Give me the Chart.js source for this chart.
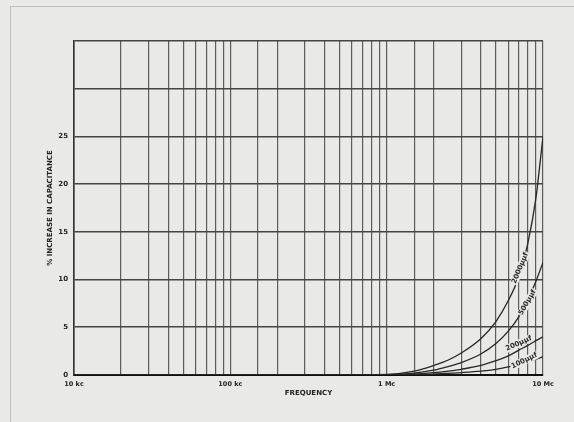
<!DOCTYPE html>
<html>
<head>
<meta charset="utf-8">
<script src="https://cdn.jsdelivr.net/npm/chart.js@4/dist/chart.umd.min.js"></script>
<style>
  html, body { margin: 0; padding: 0; background: #e9e9e7; }
  #wrap { width: 574px; height: 422px; }
</style>
</head>
<body>
<div id="wrap"><canvas id="chart" width="574" height="422"></canvas></div>
<script>
// frequency (c/s) and % increase in capacitance per capacitor size
const freqs   = [1e4, 1e5, 5e5, 1e6, 1.5e6, 2e6, 2.5e6, 3e6, 4e6, 5e6, 6e6, 7e6, 8e6, 9e6, 1e7];
const pf2000  = [0, 0, 0, 0.05, 0.4, 1.0, 1.6, 2.3, 3.8, 5.6, 7.8, 10.3, 13.8, 18.5, 25];
const pf500   = [0, 0, 0, 0.02, 0.2, 0.5, 0.9, 1.3, 2.2, 3.3, 4.6, 6.1, 7.9, 9.8, 11.8];
const pf200   = [0, 0, 0, 0.01, 0.1, 0.25, 0.4, 0.6, 1.0, 1.5, 2.0, 2.6, 3.1, 3.6, 4.0];
const pf100   = [0, 0, 0, 0, 0.05, 0.1, 0.18, 0.25, 0.4, 0.6, 0.85, 1.1, 1.4, 1.65, 1.9];

const seriesNames = ["2000μμf", "500μμf", "200μμf", "100μμf"];
const yLabelled   = [0, 5, 10, 15, 20, 25];
const xDecades    = [1e4, 1e5, 1e6, 1e7];
const xDecadeText = ["10 kc", "100 kc", "1 Mc", "10 Mc"];

// where the hand lettering sits along each curve (freq, value, angle)
const notes = [
  { f: 7.15e6, v: 11.2, a: -67 },
  { f: 7.95e6, v: 7.6,  a: -60 },
  { f: 7.0e6,  v: 3.3,  a: -24 },
  { f: 7.6e6,  v: 1.5,  a: -26 }
];

const toPoints = vals => freqs.map((f, i) => ({ x: f, y: vals[i] }));

const paper = {
  id: "paper",
  beforeDraw(chart) {
    const { ctx, width, height } = chart;
    ctx.save();
    ctx.fillStyle = "#e9e9e7";
    ctx.fillRect(0, 0, width, height);
    ctx.strokeStyle = "#bdbdba";
    ctx.lineWidth = 1;
    ctx.strokeRect(10.5, 6.5, width, height);
    ctx.restore();
  }
};

const curveNotes = {
  id: "curveNotes",
  afterDatasetsDraw(chart) {
    const { ctx, scales: { x, y } } = chart;
    ctx.save();
    ctx.font = "bold 7px 'DejaVu Sans'";
    ctx.textAlign = "center";
    ctx.textBaseline = "middle";
    notes.forEach((n, i) => {
      const px = x.getPixelForValue(n.f);
      const py = y.getPixelForValue(n.v);
      ctx.save();
      ctx.translate(px, py);
      ctx.rotate(n.a * Math.PI / 180);
      const w = ctx.measureText(seriesNames[i]).width;
      ctx.fillStyle = "#e9e9e7";
      ctx.fillRect(-w / 2 - 1, -4, w + 2, 8);
      ctx.fillStyle = "#2a2a2a";
      ctx.fillText(seriesNames[i], 0, 0);
      ctx.restore();
    });
    ctx.restore();
  }
};

const lineStyle = { borderColor: "#262626", borderWidth: 1.3, pointRadius: 0, cubicInterpolationMode: "monotone", fill: false };

new Chart(document.getElementById("chart"), {
  type: "line",
  data: {
    datasets: [
      { label: seriesNames[0], data: toPoints(pf2000), ...lineStyle },
      { label: seriesNames[1], data: toPoints(pf500), ...lineStyle },
      { label: seriesNames[2], data: toPoints(pf200), ...lineStyle },
      { label: seriesNames[3], data: toPoints(pf100), ...lineStyle }
    ]
  },
  options: {
    responsive: false,
    animation: false,
    devicePixelRatio: 1,
    layout: { padding: { top: 41, right: 31, left: 0, bottom: 0 } },
    plugins: { legend: { display: false }, tooltip: { enabled: false } },
    scales: {
      x: {
        type: "logarithmic",
        min: 1e4,
        max: 1e7,
        afterFit: s => { s.height = 47; },
        grid: { color: "#5c5c5c", lineWidth: 1.2, drawTicks: false },
        border: { display: true, color: "#111", width: 2 },
        ticks: {
          autoSkip: false,
          maxRotation: 0,
          padding: 5,
          color: "#222",
          font: { family: "'DejaVu Sans'", size: 6.5, weight: "bold" },
          callback: v => {
            const k = xDecades.findIndex(d => Math.abs(Math.log10(d) - Math.log10(v)) < 1e-6);
            return k >= 0 ? xDecadeText[k] : "";
          }
        },
        title: {
          display: true,
          text: "FREQUENCY",
          color: "#222",
          font: { family: "'DejaVu Sans'", size: 7, weight: "bold" },
          padding: { top: 0, bottom: 25 }
        }
      },
      y: {
        min: 0,
        max: 35,
        afterFit: s => { s.width = 74; },
        grid: { color: "#454545", lineWidth: 1.6, drawTicks: false },
        border: { display: true, color: "#333", width: 1.6 },
        ticks: {
          stepSize: 5,
          padding: 6,
          color: "#222",
          font: { family: "'DejaVu Sans'", size: 7, weight: "bold" },
          callback: v => yLabelled.includes(v) ? v : ""
        },
        title: {
          display: true,
          text: "% INCREASE IN CAPACITANCE",
          color: "#222",
          font: { family: "'DejaVu Sans'", size: 7, weight: "bold" },
          padding: { top: 46, bottom: 0 }
        }
      }
    }
  },
  plugins: [paper, curveNotes]
});
</script>
</body>
</html>
